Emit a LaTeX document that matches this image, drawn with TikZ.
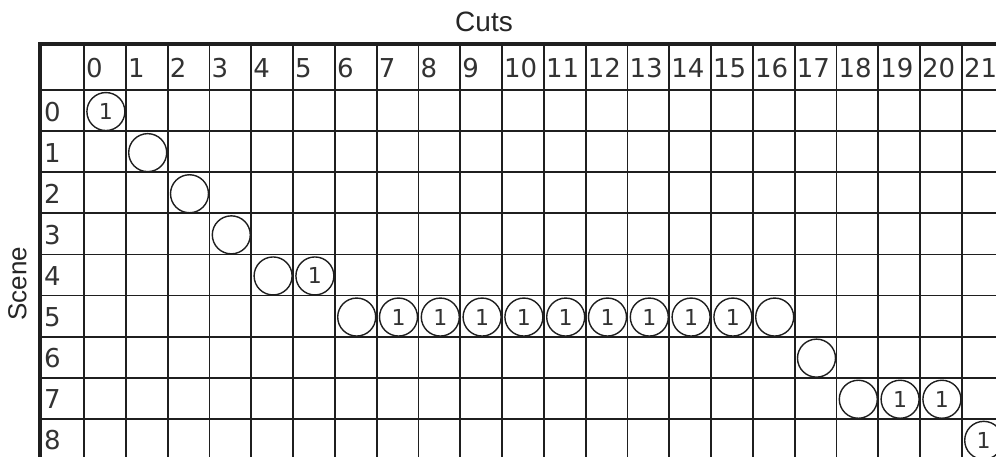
\documentclass[tikz,border=0pt]{standalone}
\usepackage{fontspec}
\setmainfont{Liberation Sans}
\newfontfamily\digitfont{DejaVu Sans}
\begin{document}
\begin{tikzpicture}[x=1pt,y=-1pt,
  gridline/.style={line width=1.8pt,draw=black!88},
  border/.style={line width=3.2pt,draw=black!88},
  hdr/.style={anchor=west,inner sep=0pt,font=\digitfont\fontsize{26}{26}\selectfont,text=black!80},
  cutcircle/.style={circle,draw=black!88,line width=1.4pt,minimum size=38pt,inner sep=0pt,font=\digitfont\fontsize{22}{22}\selectfont,text=black!80},
  title/.style={inner sep=0pt,text=black!85}
]
\useasboundingbox (0,0) rectangle (996,457);
\fill[white] (0,0) rectangle (996,457);
\clip (0,0) rectangle (996,457);
% grid
\foreach \r in {0,...,9} \draw[gridline] (40,{90+\r*41.1}) -- (1010,{90+\r*41.1});
\foreach \c in {0,...,22} \draw[gridline] ({84+\c*41.8},44) -- ({84+\c*41.8},470);
\draw[border] (1010,44) -- (40,44) -- (40,470);
% header labels
\foreach \c in {0,...,21} \node[hdr] (h\c) at ({84+\c*41.8+2},68) {\c};
\foreach \r in {0,...,8} \node[hdr] (s\r) at (44,{90+(\r+0.5)*41.1+1}) {\r};
% circles
\foreach \c/\r/\t in {0/0/1,1/1/,2/2/,3/3/,4/4/,5/4/1,6/5/,7/5/1,8/5/1,9/5/1,10/5/1,11/5/1,12/5/1,13/5/1,14/5/1,15/5/1,16/5/,17/6/,18/7/,19/7/1,20/7/1,21/8/1}
  \node[cutcircle] (k\c) at ({84+(\c+0.5)*41.8+1},{90+(\r+0.5)*41.1+1}) {\t};
% titles
\node[title,font=\fontsize{28}{28}\selectfont] (cuts) at (484,22) {Cuts};
\node[title,rotate=90,font=\fontsize{26}{26}\selectfont] (scene) at (17.5,283.5) {Scene};
\end{tikzpicture}
\end{document}
